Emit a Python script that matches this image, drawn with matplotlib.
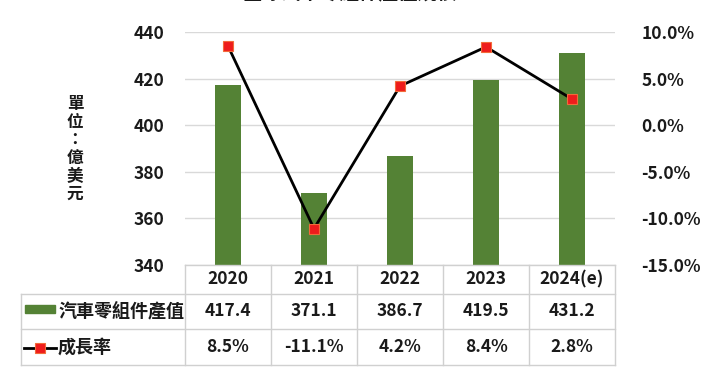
import matplotlib
matplotlib.use("Agg")
import matplotlib.pyplot as plt
from matplotlib.transforms import blended_transform_factory
from matplotlib.lines import Line2D
from matplotlib.patches import Rectangle
import numpy as np

plt.rcParams['font.family'] = ['Noto Sans CJK TC', 'DejaVu Sans']

years = ["2020", "2021", "2022", "2023", "2024(e)"]
output_values = [417.4, 371.1, 386.7, 419.5, 431.2]
growth_rates = [8.5, -11.1, 4.2, 8.4, 2.8]
output_labels = ["417.4", "371.1", "386.7", "419.5", "431.2"]
growth_labels = ["8.5%", "-11.1%", "4.2%", "8.4%", "2.8%"]
series_bar = "汽車零組件產值"
series_line = "成長率"
unit_label = "單位：億美元"
title = "全球汽車零組件產值規模"

W, H = 701, 373
fig = plt.figure(figsize=(W / 100, H / 100), dpi=100)

def fx(px):
    return px / W

def fy(py):
    return 1 - py / H

TXT = '#1a1a1a'
FW = 'bold'
FS = 12.5

ax_left, ax_right, ax_top, ax_bottom = 185, 615, 32, 265
ax = fig.add_axes([fx(ax_left), fy(ax_bottom), fx(ax_right - ax_left), (ax_bottom - ax_top) / H])
x = np.arange(len(years))
green = "#548235"
ax.bar(x, output_values, width=0.31, color=green, zorder=2)
ax.set_xlim(-0.5, len(years) - 0.5)
ax.set_ylim(340, 440)
ax.set_yticks(np.arange(340, 441, 20))
ax.grid(axis='y', color='#d9d9d9', linewidth=1, zorder=0)
ax.set_xticks([])
for s in ax.spines.values():
    s.set_visible(False)
ax.tick_params(axis='y', length=0, pad=15, labelsize=FS)
for lab in ax.get_yticklabels():
    lab.set_color(TXT)
    lab.set_fontweight(FW)

ax2 = ax.twinx()
ax2.set_ylim(-15, 10)
ax2.set_yticks(np.arange(-15, 11, 5))
ax2.set_yticklabels([f"{v:.1f}%" for v in np.arange(-15, 11, 5)])
ax2.plot(x, growth_rates, color='black', linewidth=2, marker='s', markersize=7,
         markerfacecolor='#ee1c1c', markeredgecolor='#f26b3a', markeredgewidth=0.8, zorder=3)
for s in ax2.spines.values():
    s.set_visible(False)
ax2.tick_params(axis='y', length=0, pad=19, labelsize=FS)
for lab in ax2.get_yticklabels():
    lab.set_color(TXT)
    lab.set_fontweight(FW)

# unit label (stacked vertical)
fig.text(fx(75), fy(149), "\n".join(unit_label), ha='center', va='center',
         fontsize=12, fontweight='bold', linespacing=1.0, color=TXT)

# title (cut off at the top like the reference)
fig.text(fx(350), fy(-7), title, ha='center', va='center', fontsize=14,
         fontweight='bold', color=TXT)

# data table
tr = blended_transform_factory(ax.transData, fig.transFigure)
tf = fig.transFigure
border = '#d0d0d0'
rows_y = [265, 294, 329, 365]
fig.add_artist(Line2D([-0.5, len(years) - 0.5], [fy(265), fy(265)], transform=tr, color=border, lw=1))
for yy in rows_y[1:]:
    fig.add_artist(Line2D([fx(21), fx(ax_right)], [fy(yy), fy(yy)], transform=tf, color=border, lw=1))
for i in range(len(years) + 1):
    xv = i - 0.5
    fig.add_artist(Line2D([xv, xv], [fy(265), fy(365)], transform=tr, color=border, lw=1))
fig.add_artist(Line2D([fx(21), fx(21)], [fy(294), fy(365)], transform=tf, color=border, lw=1))

for i in range(len(years)):
    fig.text(x[i], fy(279), years[i], transform=tr, ha='center', va='center', fontsize=FS, fontweight=FW, color=TXT)
    fig.text(x[i], fy(311), output_labels[i], transform=tr, ha='center', va='center', fontsize=FS, fontweight=FW, color=TXT)
    fig.text(x[i], fy(347), growth_labels[i], transform=tr, ha='center', va='center', fontsize=FS, fontweight=FW, color=TXT)

# legend keys
fig.add_artist(Rectangle((fx(25), fy(313)), fx(30), (313 - 305) / H, transform=tf, color=green))
fig.text(fx(58), fy(311), series_bar, ha='left', va='center', fontsize=13, fontweight=FW, color=TXT)
fig.add_artist(Line2D([fx(24), fx(56)], [fy(348), fy(348)], transform=tf, color='black', lw=2))
fig.add_artist(Line2D([fx(40)], [fy(348)], transform=tf, marker='s', markersize=7,
                      markerfacecolor='#ee1c1c', markeredgecolor='#f26b3a', markeredgewidth=0.8))
fig.text(fx(58), fy(347), series_line, ha='left', va='center', fontsize=13, fontweight=FW, color=TXT)

fig.savefig("out.png", dpi=100)
